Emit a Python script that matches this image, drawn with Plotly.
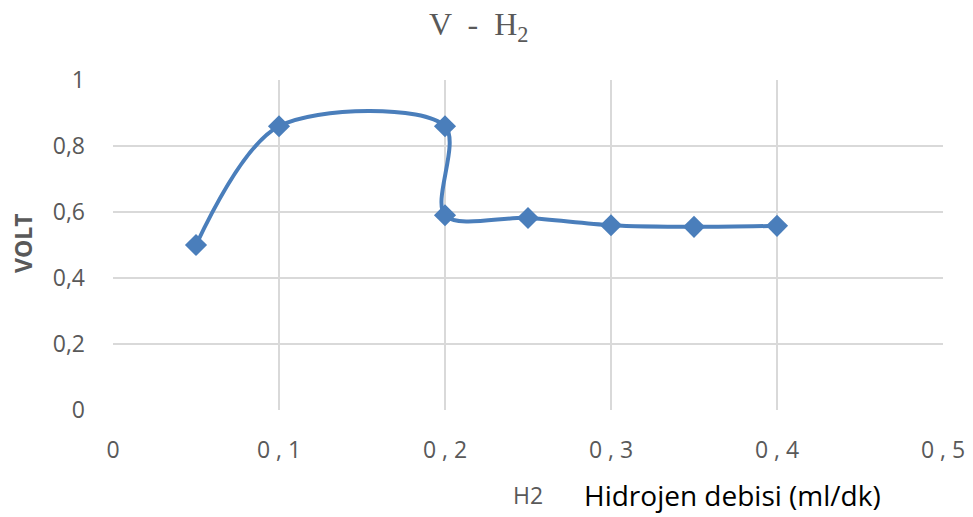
import plotly.graph_objects as go

# Hydrogen flow rate (ml/dk) vs. cell voltage
h2_flow = [0.05, 0.1, 0.2, 0.2, 0.25, 0.3, 0.35, 0.4]
volt = [0.50, 0.86, 0.86, 0.59, 0.582, 0.56, 0.555, 0.558]

x_ticks = [0, 0.1, 0.2, 0.3, 0.4, 0.5]
x_labels = ["0", "0 , 1", "0 , 2", "0 , 3", "0 , 4", "0 , 5"]
y_ticks = [0, 0.2, 0.4, 0.6, 0.8, 1]
y_labels = ["0", "0,2", "0,4", "0,6", "0,8", "1"]

blue = "#4a7ebb"
grid = "#d9d9d9"
grey_text = "#595959"

fig = go.Figure()
fig.add_trace(go.Scatter(
    x=h2_flow, y=volt,
    mode="lines+markers",
    line=dict(color=blue, width=4, shape="spline", smoothing=0.9),
    marker=dict(symbol="diamond", size=17, color=blue),
    showlegend=False,
    hoverinfo="x+y",
))

fig.update_layout(
    width=973, height=517,
    margin=dict(l=113, r=30, t=80, b=107),
    paper_bgcolor="white", plot_bgcolor="white",
    xaxis=dict(
        range=[0, 0.5], tickvals=x_ticks, ticktext=x_labels,
        showgrid=True, gridcolor=grid, gridwidth=2,
        zeroline=False, showline=False, ticks="", automargin=False,
        tickfont=dict(family="Open Sans", size=23, color=grey_text),
        ticklabelstandoff=24,
    ),
    yaxis=dict(
        range=[0, 1], tickvals=y_ticks, ticktext=y_labels,
        showgrid=True, gridcolor=grid, gridwidth=2,
        zeroline=False, showline=False, ticks="", automargin=False,
        tickfont=dict(family="Open Sans", size=23, color=grey_text),
        ticklabelstandoff=27,
    ),
    annotations=[
        # chart title
        dict(text="V  -  H<sub>2</sub>", xref="paper", yref="paper",
             x=(479 - 113) / 830, y=(410 - 26) / 330,
             xanchor="center", yanchor="middle", showarrow=False,
             font=dict(family="Liberation Serif", size=32, color=grey_text)),
        # y-axis title
        dict(text="<b>VOLT</b>", xref="paper", yref="paper",
             x=(23 - 113) / 830, y=(410 - 243) / 330, textangle=-90,
             xanchor="center", yanchor="middle", showarrow=False,
             font=dict(family="Open Sans", size=23, color=grey_text)),
        # x-axis title
        dict(text="H2", xref="paper", yref="paper",
             x=(528 - 113) / 830, y=(410 - 495) / 330,
             xanchor="center", yanchor="middle", showarrow=False,
             font=dict(family="Open Sans", size=23, color=grey_text)),
        dict(text="Hidrojen debisi (ml/dk)", xref="paper", yref="paper",
             x=(582 - 113) / 830, y=(410 - 495) / 330,
             xanchor="left", yanchor="middle", showarrow=False,
             font=dict(family="Open Sans", size=28, color="#000000")),
    ],
)

fig.write_html("out.html")
